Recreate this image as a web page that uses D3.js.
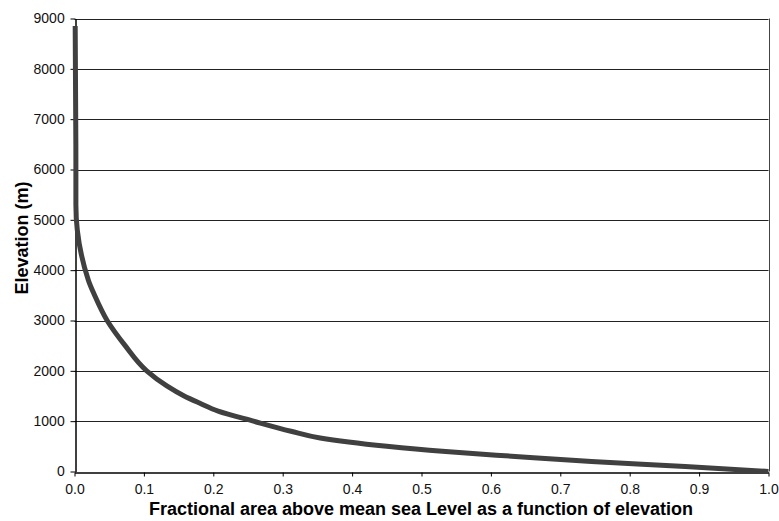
<!DOCTYPE html>
<html>
<head>
<meta charset="utf-8">
<script src="https://cdn.jsdelivr.net/npm/d3@7"></script>
<style>
  body { margin: 0; background: #fff; }
  svg { display: block; font-family: "Liberation Sans", Arial, sans-serif; }
</style>
</head>
<body>
<svg width="779" height="521"></svg>
<script>
// hypsometric curve: elevation (m) vs fraction of area above it
var elevation = [8850, 6000, 5300, 3800, 3500, 3000, 2500, 2000, 1700, 1500, 1360, 1200, 1000, 800, 665, 500, 400, 300, 200, 100, 0]
var fraction  = [0.001, 0.002, 0.002, 0.020, 0.029, 0.047, 0.073, 0.104, 0.133, 0.158, 0.180, 0.207, 0.258, 0.312, 0.354, 0.450, 0.530, 0.635, 0.745, 0.880, 1.0]
var xTicks = [0, 0.1, 0.2, 0.3, 0.4, 0.5, 0.6, 0.7, 0.8, 0.9, 1.0]
var yTicks = [0, 1000, 2000, 3000, 4000, 5000, 6000, 7000, 8000, 9000]

var margin = {top: 18.5, right: 10.5, bottom: 49.5, left: 74.5}
var width = 779, height = 521

var svg = d3.select("svg")

var x = d3.scaleLinear().domain([0, 1]).range([margin.left, width - margin.right])
var y = d3.scaleLinear().domain([0, 9000]).range([height - margin.bottom, margin.top])

// gridlines
svg.append("g")
  .selectAll("line")
  .data(yTicks.filter(d => d > 0))
  .join("line")
  .attr("x1", x(0)).attr("x2", x(1))
  .attr("y1", d => Math.round(y(d)) + 0.5).attr("y2", d => Math.round(y(d)) + 0.5)
  .attr("stroke", "#222")
  .attr("stroke-width", 1)

// right border
svg.append("line")
  .attr("x1", Math.round(x(1)) + 0.5).attr("x2", Math.round(x(1)) + 0.5)
  .attr("y1", y(9000)).attr("y2", y(0))
  .attr("stroke", "#444")

var xAxis = svg.append("g")
  .attr("transform", `translate(0,${Math.round(y(0)) + 0.5})`)
  .call(d3.axisBottom(x).tickValues(xTicks).tickFormat(d3.format(".1f")).tickSizeInner(4).tickSizeOuter(0))
xAxis.select(".domain").attr("stroke", "#000").attr("stroke-width", 1.5)
xAxis.selectAll("text").attr("font-size", 14).attr("fill", "#111").attr("dy", "1em")

var yAxis = svg.append("g")
  .attr("transform", `translate(${Math.round(x(0)) + 0.5},0)`)
  .call(d3.axisLeft(y).tickValues(yTicks).tickFormat(d3.format("d")).tickSizeInner(5).tickSizeOuter(0))
yAxis.select(".domain").attr("stroke", "#000").attr("stroke-width", 1.5)
yAxis.selectAll("text").attr("font-size", 14).attr("fill", "#111").attr("dx", "-0.2em")

// curve
var pts = elevation.map((e, i) => ({e: e, f: fraction[i]}))
svg.append("path")
  .datum(pts)
  .attr("fill", "none")
  .attr("stroke", "#404040")
  .attr("stroke-width", 5)
  .attr("stroke-linejoin", "round")
  .attr("d", d3.line().x(d => x(d.f)).y(d => y(d.e)).curve(d3.curveMonotoneY))

// titles
svg.append("text")
  .attr("x", 421)
  .attr("y", 515)
  .attr("text-anchor", "middle")
  .attr("font-size", 18)
  .attr("font-weight", "bold")
  .text("Fractional area above mean sea Level as a function of elevation")

svg.append("text")
  .attr("transform", `translate(28,238) rotate(-90)`)
  .attr("text-anchor", "middle")
  .attr("font-size", 18)
  .attr("font-weight", "bold")
  .text("Elevation (m)")
</script>
</body>
</html>
